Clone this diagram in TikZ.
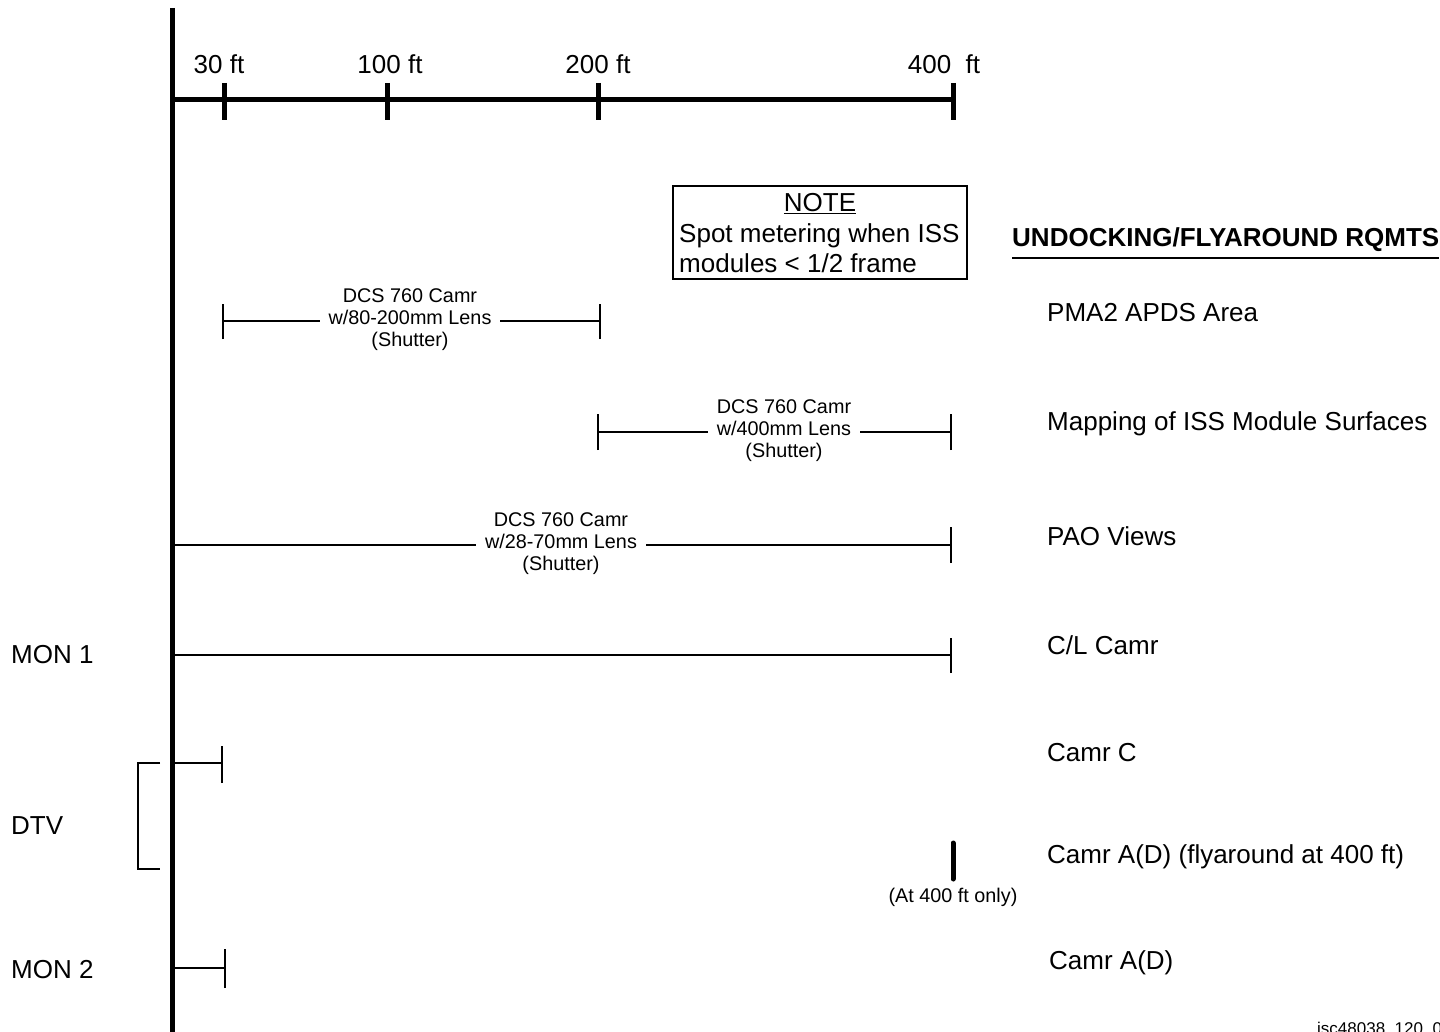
\documentclass[tikz,border=0pt]{standalone}
\usepackage{fontspec}
\setmainfont{Liberation Sans}
\begin{document}
\begin{tikzpicture}[x=1pt,y=-1pt,
  big/.style={font=\fontsize{26}{29.5}\selectfont, inner sep=0pt},
  small/.style={font=\fontsize{19.8}{22}\selectfont, align=center, fill=white, inner xsep=9pt, inner ysep=0pt},
  thick axis/.style={line width=5pt},
  thin bar/.style={line width=2pt},
  lbl/.style={big, anchor=west}
]
\useasboundingbox (0,0) rectangle (1440,1032);
% main axes
\coordinate (vtop) at (172,8);
\coordinate (vbot) at (172,1040);
\draw[thick axis] (vtop) -- (vbot);
\coordinate (hstart) at (172,100);
\coordinate (hend) at (953,100);
\draw[thick axis] (hstart) -- (hend);
\foreach \x/\n in {224/t30,387/t100,598/t200,953/t400}{
  \coordinate (\n a) at (\x,83);
  \coordinate (\n b) at (\x,120);
  \draw[thick axis] (\n a) -- (\n b);
}
\node[big] (l30) at (219,64) {30 ft};
\node[big] (l100) at (390,64) {100 ft};
\node[big] (l200) at (598,64) {200 ft};
\node[big] (l400) at (944,64) {400\ \ ft};

% note box
\node[draw, line width=1.2pt, minimum width=294pt, minimum height=93pt, inner sep=0pt] (notebox) at (820,232.5) {};
\node[big] (notetitle) at (820,204) {\underline{NOTE}};
\node[big, align=left, anchor=west] (notetext) at (679,248) {Spot metering when ISS\\modules \textless{} 1/2 frame};

% heading
\node[big, anchor=west, font=\fontsize{26}{29.5}\selectfont\bfseries] (head) at (1012,240) {UNDOCKING/FLYAROUND RQMTS};
\coordinate (hul) at (1012,258);
\coordinate (hur) at (1439,258);
\draw[line width=2.5pt] (hul) -- (hur);

% bar 1
\coordinate (b1l) at (223,321);
\coordinate (b1r) at (600,321);
\draw[thin bar] (b1l) -- (b1r);
\draw[thin bar] ([yshift=-18pt]b1l) -- ([yshift=17pt]b1l);
\draw[thin bar] ([yshift=-18pt]b1r) -- ([yshift=17pt]b1r);
\node[small] (t1) at (410,320) {DCS 760 Camr\\w/80-200mm Lens\\(Shutter)};

% bar 2
\coordinate (b2l) at (598,432);
\coordinate (b2r) at (951,432);
\draw[thin bar] (b2l) -- (b2r);
\draw[thin bar] ([yshift=-18pt]b2l) -- ([yshift=18pt]b2l);
\draw[thin bar] ([yshift=-18pt]b2r) -- ([yshift=18pt]b2r);
\node[small] (t2) at (784,431) {DCS 760 Camr\\w/400mm Lens\\(Shutter)};

% bar 3
\coordinate (b3l) at (172,545);
\coordinate (b3r) at (951,545);
\draw[thin bar] (b3l) -- (b3r);
\draw[thin bar] ([yshift=-18pt]b3r) -- ([yshift=18pt]b3r);
\node[small] (t3) at (561,544) {DCS 760 Camr\\w/28-70mm Lens\\(Shutter)};

% bar 4
\coordinate (b4l) at (172,655);
\coordinate (b4r) at (951,655);
\draw[thin bar] (b4l) -- (b4r);
\draw[thin bar] ([yshift=-18pt]b4r) -- ([yshift=17pt]b4r);

% bar 5
\coordinate (b5l) at (172,763);
\coordinate (b5r) at (222,763);
\draw[thin bar] (b5l) -- (b5r);
\draw[thin bar] ([yshift=-20pt]b5r) -- ([yshift=17pt]b5r);

% DTV bracket
\coordinate (brt) at (160,763);
\coordinate (brb) at (160,869);
\draw[thin bar] (brt) -| (138,869) -- (brb);

% 400 ft only marker
\coordinate (m4a) at (953,843);
\coordinate (m4b) at (953,879);
\draw[line width=5pt, line cap=round] (m4a) -- (m4b);
\node[font=\fontsize{19.8}{22}\selectfont, inner sep=0pt] (only) at (953,897) {(At 400 ft only)};

% bar 6
\coordinate (b6l) at (172,968);
\coordinate (b6r) at (225,968);
\draw[thin bar] (b6l) -- (b6r);
\draw[thin bar] ([yshift=-20pt]b6r) -- ([yshift=19pt]b6r);

% left labels
\node[lbl] (mon1) at (11,655) {MON 1};
\node[lbl] (dtv) at (11,826) {DTV};
\node[lbl] (mon2) at (11,970) {MON 2};

% right labels
\node[lbl] (r1) at (1047,313) {PMA2 APDS Area};
\node[lbl] (r2) at (1047,424) {Mapping of ISS Module Surfaces};
\node[lbl] (r3) at (1047,536) {PAO Views};
\node[lbl] (r4) at (1047,645) {C/L Camr};
\node[lbl] (r5) at (1047,753) {Camr C};
\node[lbl] (r6) at (1047,857) {Camr A(D) (flyaround at 400 ft)};
\node[lbl] (r7) at (1049,963) {Camr A(D)};

\node[anchor=north west, inner sep=0pt, font=\fontsize{17}{20}\selectfont] (id) at (1317,1022) {isc48038\_120\_001};
\end{tikzpicture}
\end{document}
